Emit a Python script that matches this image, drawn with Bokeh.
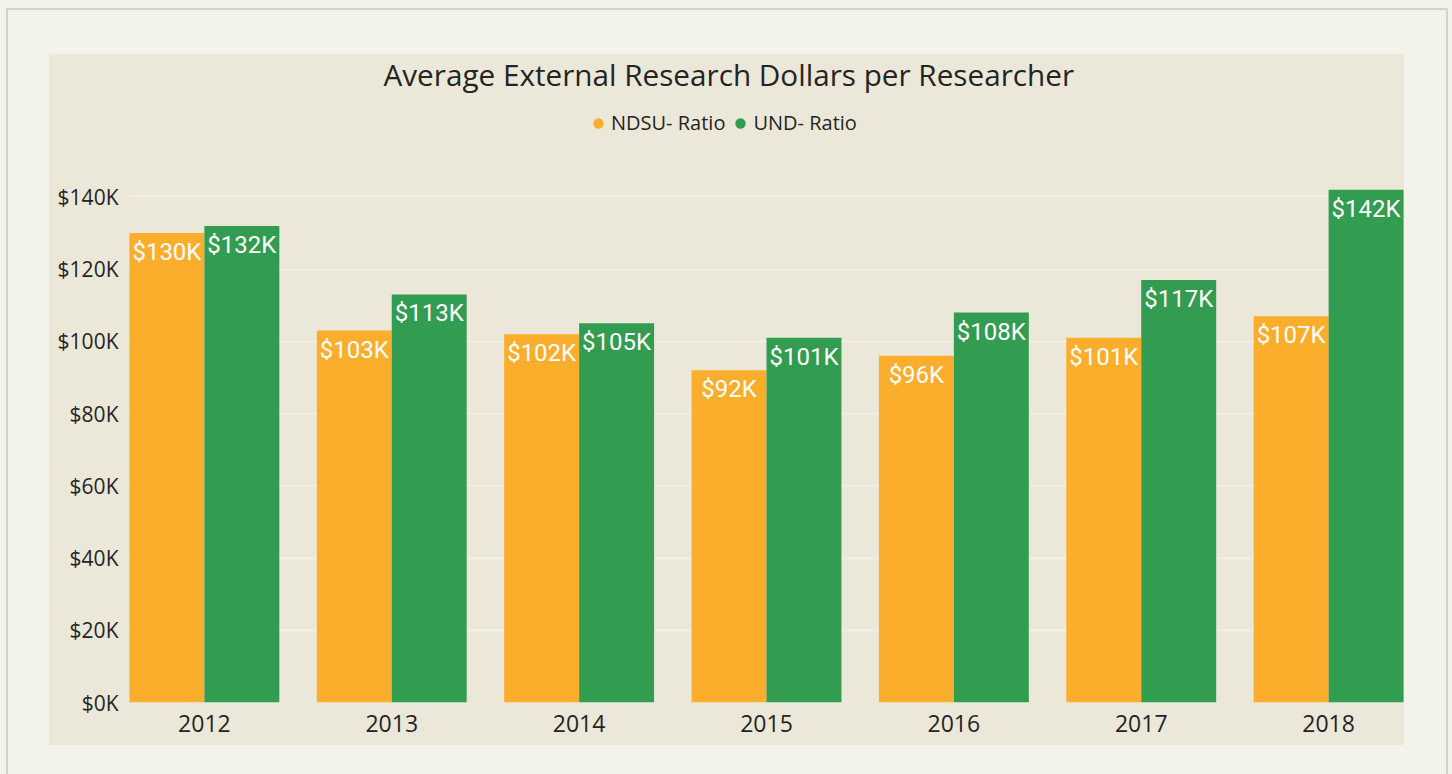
from bokeh.plotting import figure
from bokeh.models import (ColumnDataSource, FactorRange, Range1d, Legend, LegendItem,
                          PrintfTickFormatter, FixedTicker)
from bokeh.transform import dodge
from bokeh.layouts import column
from bokeh.core.properties import value
from bokeh.embed import file_html
from bokeh.resources import INLINE

# ---- data (thousands of dollars) ----
years = ["2012", "2013", "2014", "2015", "2016", "2017", "2018"]
ndsu_ratio = [130, 103, 102, 92, 96, 101, 107]
und_ratio = [132, 113, 105, 101, 108, 117, 142]
series_names = ["NDSU- Ratio", "UND- Ratio"]
y_ticks = [0, 20, 40, 60, 80, 100, 120, 140]

ORANGE = "#FAAE2C"
GREEN = "#329C50"
PANEL = "#EBE8DA"
PAGE = "#F3F2EB"

src = ColumnDataSource(dict(
    year=years,
    ndsu=ndsu_ratio,
    und=und_ratio,
    ndsu_lbl=["$%dK" % v for v in ndsu_ratio],
    und_lbl=["$%dK" % v for v in und_ratio],
))

p = figure(
    x_range=FactorRange(*years, range_padding=-0.095, range_padding_units="absolute"),
    y_range=Range1d(0, 167),
    width=1355, height=699,
    output_backend="svg", toolbar_location=None,
    min_border_left=79, min_border_right=0, min_border_bottom=43, min_border_top=52,
    background_fill_color=None, border_fill_color=None,
    margin=(36, 0, 0, 41),
    styles={"background": "linear-gradient(to bottom, %s 0px, %s 8px, %s 8px, %s 100%%)"
                          % (PAGE, PAGE, PANEL, PANEL)},
)
p.outline_line_color = None

p.title.text = "Average External Research Dollars per Researcher"
p.title.text_font = "Open Sans"
p.title.text_font_size = "29.7px"
p.title.text_font_style = "normal"
p.title.text_color = "#252423"
p.title.align = "left"
p.title.offset = 255
p.title.standoff = 10

xo = dodge("year", -0.2, range=p.x_range)
xu = dodge("year", 0.2, range=p.x_range)

p.vbar(x=xo, top="ndsu", width=0.4, source=src, fill_color=ORANGE, line_color=None)
p.vbar(x=xu, top="und", width=0.4, source=src, fill_color=GREEN, line_color=None)

lbl_kw = dict(text_align="center", text_baseline="middle", text_color="white",
              text_font=value("Roboto"), text_font_size="24px", y_offset=19, source=src)
p.text(x=xo, y="ndsu", text="ndsu_lbl", **lbl_kw)
p.text(x=xu, y="und", text="und_lbl", **lbl_kw)

# legend-only circle markers (size 0 in plot)
s1 = p.scatter(x=xo, y="ndsu", size=0, marker="circle", fill_color=ORANGE, line_color=None, source=src)
s2 = p.scatter(x=xu, y="und", size=0, marker="circle", fill_color=GREEN, line_color=None, source=src)

legend = Legend(items=[LegendItem(label=series_names[0], renderers=[s1]),
                       LegendItem(label=series_names[1], renderers=[s2])],
                orientation="horizontal", location=(457, 566),
                background_fill_alpha=0, border_line_alpha=0,
                label_text_font="Open Sans", label_text_font_size="20px",
                label_text_color="#252423",
                glyph_width=26, glyph_height=26, label_standoff=0, spacing=2,
                padding=0, margin=0)
p.add_layout(legend, "center")

# axes
p.yaxis.ticker = FixedTicker(ticks=y_ticks)
p.yaxis.formatter = PrintfTickFormatter(format="$%dK")
for ax in (p.xaxis[0], p.yaxis[0]):
    ax.axis_line_color = None
    ax.major_tick_line_color = None
    ax.minor_tick_line_color = None
    ax.major_label_text_font = "Open Sans"
    ax.major_label_text_color = "#252423"
p.yaxis.major_label_text_font_size = "21px"
p.yaxis.major_label_standoff = 4
p.xaxis.major_label_text_font_size = "23px"
p.xaxis.major_label_standoff = 6

p.xgrid.grid_line_color = None
p.ygrid.grid_line_color = "#F3F1E9"
p.ygrid.grid_line_width = 1.5

inner = column(p, width=1442, height=766, margin=(8, 0, 0, 6), styles={
    "background-color": PAGE,
    "border-top": "2px solid #D4D2C9",
    "border-left": "2px solid #D4D2C9",
    "border-right": "2px solid #D4D2C9",
})
page = column(inner, width=1452, height=774, styles={"background-color": PAGE})

open("out.html", "w").write(file_html(page, INLINE))
